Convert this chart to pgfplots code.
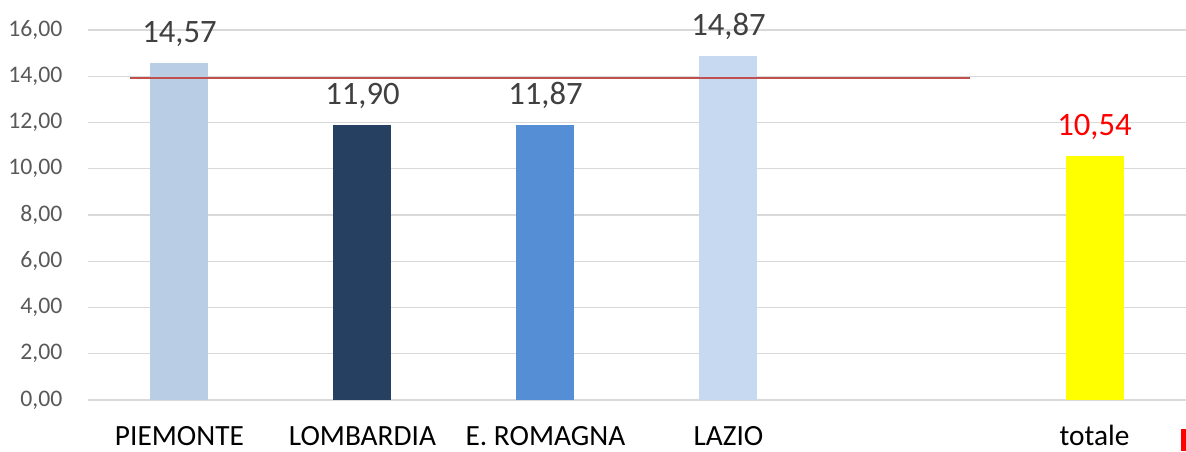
\documentclass[border=0pt]{standalone}
\usepackage{fontspec}
\setmainfont{Carlito}
\usepackage{pgfplots}
\pgfplotsset{compat=1.18}

\definecolor{piem}{HTML}{B9CDE5}
\definecolor{lomb}{HTML}{264061}
\definecolor{emro}{HTML}{558ED5}
\definecolor{lazi}{HTML}{C6D9F1}
\definecolor{tot}{HTML}{FFFF00}
\definecolor{refline}{HTML}{C0504D}
\definecolor{gridgray}{HTML}{D9D9D9}
\definecolor{ticktxt}{HTML}{595959}
\definecolor{valtxt}{HTML}{404040}

\begin{document}
\begin{tikzpicture}
\begin{axis}[
  scale only axis,
  width=823.5pt, height=277.5pt,
  xmin=-0.5, xmax=5.5,
  ymin=0, ymax=16,
  ytick={0,2,...,16},
  xtick={0,1,2,3,5},
  xticklabels={PIEMONTE,LOMBARDIA,E. ROMAGNA,LAZIO,totale},
  ymajorgrids,
  grid style={gridgray, line width=0.8pt},
  axis line style={draw=none},
  major tick length=0pt,
  /pgf/number format/.cd, fixed, fixed zerofill, precision=2, use comma, assume math mode=true,
  /pgfplots/.cd,
  yticklabel style={font=\fontsize{17.8}{21}\selectfont, text=ticktxt, anchor=east, inner sep=0pt, xshift=-19pt},
  xticklabel style={font=\fontsize{22}{26}\selectfont, text=black, anchor=base, inner sep=0pt, yshift=-34.5pt},
  ybar, bar width=43.5pt,
  nodes near coords style={font=\fontsize{24.5}{29}\selectfont, text=valtxt, anchor=base, inner sep=0pt, yshift=15.5pt},
  clip=false,
]
\addplot[fill=piem, draw=none, bar shift=0pt, nodes near coords] coordinates {(0,14.57)};
\addplot[fill=lomb, draw=none, bar shift=0pt, nodes near coords] coordinates {(1,11.90)};
\addplot[fill=emro, draw=none, bar shift=0pt, nodes near coords] coordinates {(2,11.87)};
\addplot[fill=lazi, draw=none, bar shift=0pt, nodes near coords] coordinates {(3,14.87)};
\addplot[fill=tot, draw=none, bar shift=0pt, nodes near coords,
  every node near coord/.append style={text=red}] coordinates {(5,10.54)};
\addplot[sharp plot, refline, line width=1.5pt, no marks] coordinates {(-0.27,13.92) (4.32,13.92)};
\fill[red] (rel axis cs:0.9954,-0.078) rectangle (rel axis cs:1.0,-0.138);
\coordinate (bl) at (rel axis cs:-0.0801,-0.138);
\coordinate (tr) at (rel axis cs:1.0,1.081);
\end{axis}
\pgfresetboundingbox
\path[use as bounding box] (bl) rectangle (tr);
\end{tikzpicture}
\end{document}
